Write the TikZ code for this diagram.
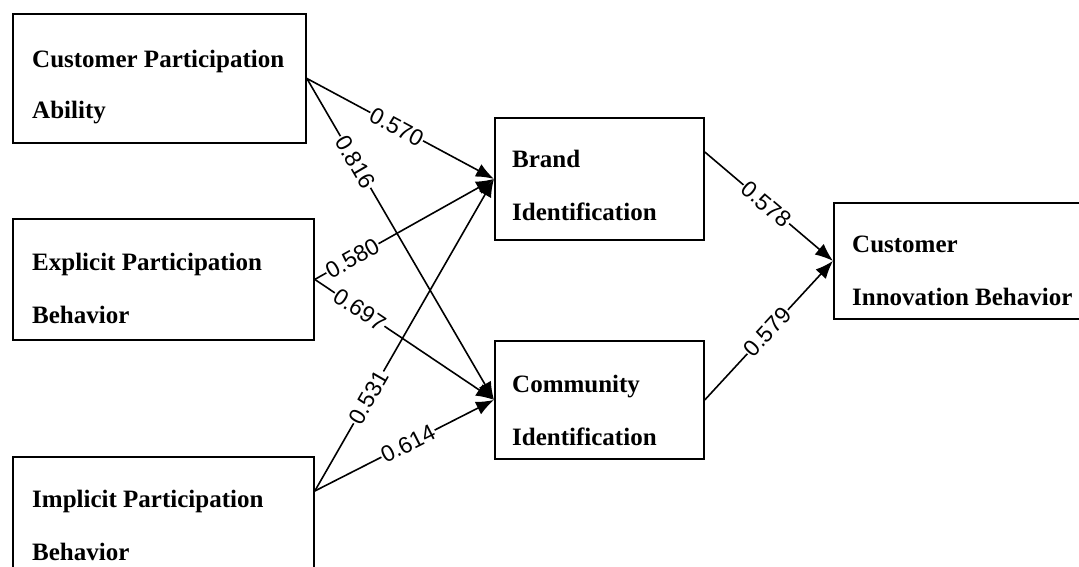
\documentclass[tikz,border=0pt]{standalone}
\usepackage{fontspec}
\setmainfont{Liberation Serif}
\newfontfamily\lblfont{Liberation Sans}
\usetikzlibrary{arrows.meta,calc}
\begin{document}
\begin{tikzpicture}[x=1pt,y=1pt,
  box/.style={draw,line width=1.8pt,rectangle,inner sep=0pt,anchor=north west},
  txt/.style={anchor=base west,inner sep=0pt,font=\fontsize{25}{30}\selectfont\bfseries},
  conn/.style={line width=1.6pt,-{Latex[length=18pt,width=14pt]}},
  lbl/.style={sloped,fill=white,inner sep=1pt,font=\fontsize{23}{26}\selectfont\lblfont}]
\useasboundingbox (0,0) rectangle (1079,-566);
% boxes
\node[box,minimum width=293pt,minimum height=129pt] (cpa) at (12,-13) {};
\node[box,minimum width=301pt,minimum height=121pt] (epb) at (12,-218) {};
\node[box,minimum width=301pt,minimum height=130pt] (ipb) at (12,-456) {};
\node[box,minimum width=209pt,minimum height=122pt] (brand) at (494,-117) {};
\node[box,minimum width=209pt,minimum height=118pt] (comm) at (494,-340) {};
\node[box,minimum width=250pt,minimum height=116pt] (cib) at (833,-202) {};
% texts
\node[txt] (t1a) at (32,-67) {Customer Participation};
\node[txt] (t1b) at (32,-118) {Ability};
\node[txt] (t2a) at (32,-270) {Explicit Participation};
\node[txt] (t2b) at (32,-323) {Behavior};
\node[txt] (t3a) at (32,-507) {Implicit Participation};
\node[txt] (t3b) at (32,-560) {Behavior};
\node[txt] (t4a) at (512,-167) {Brand};
\node[txt] (t4b) at (512,-220) {Identification};
\node[txt] (t5a) at (512,-392) {Community};
\node[txt] (t5b) at (512,-445) {Identification};
\node[txt] (t6a) at (852,-252) {Customer};
\node[txt] (t6b) at (852,-305) {Innovation Behavior};
% connector points
\coordinate (ipbout) at ($(ipb.north east)+(0,-35)$);
\coordinate (brandout) at ($(brand.north east)+(0,-35)$);
% connectors
\draw[conn] (cpa.east) -- node[lbl,pos=0.48] {0.570} (brand.west);
\draw[conn] (cpa.east) -- node[lbl,pos=0.26] {0.816} (comm.west);
\draw[conn] (epb.east) -- node[lbl,pos=0.21] {0.580} (brand.west);
\draw[conn] (epb.east) -- node[lbl,pos=0.25] {0.697} (comm.west);
\draw[conn] (ipbout) -- node[lbl,pos=0.30] {0.531} (brand.west);
\draw[conn] (ipbout) -- node[lbl,pos=0.52] {0.614} (comm.west);
\draw[conn] (brandout) -- node[lbl,pos=0.48] {0.578} (cib.west);
\draw[conn] (comm.east) -- node[lbl,pos=0.49] {0.579} (cib.west);
\end{tikzpicture}
\end{document}
